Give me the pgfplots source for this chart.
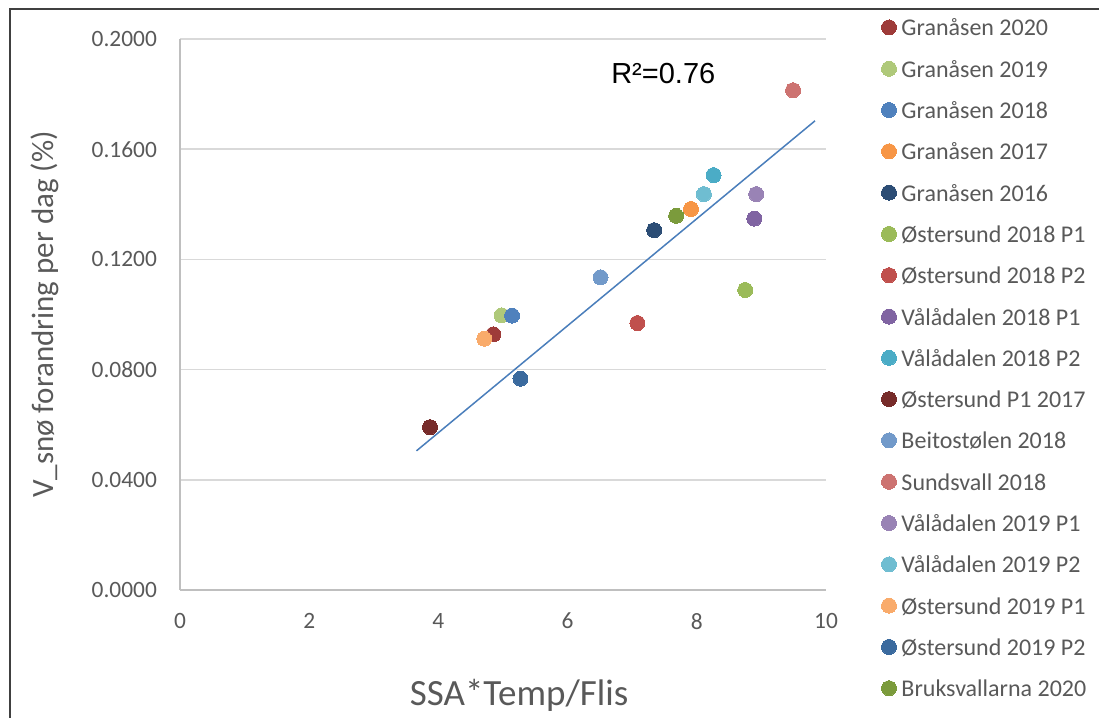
\documentclass[border=0pt]{standalone}
\usepackage{pgfplots}
\pgfplotsset{compat=1.18}
\usepackage{fontspec}
\setmainfont{Carlito}
\newfontfamily\arialfont{Liberation Sans}
\definecolor{framec}{HTML}{404040}
\definecolor{axisc}{HTML}{BFBFBF}
\definecolor{gridc}{HTML}{D9D9D9}
\definecolor{tickc}{HTML}{595959}
\definecolor{trendc}{HTML}{4A7EBB}
\definecolor{cA}{HTML}{9E3B39}
\definecolor{cB}{HTML}{AFC97A}
\definecolor{cC}{HTML}{4F81BD}
\definecolor{cD}{HTML}{F79646}
\definecolor{cE}{HTML}{2C4D75}
\definecolor{cF}{HTML}{9BBB59}
\definecolor{cG}{HTML}{C0504D}
\definecolor{cH}{HTML}{8064A2}
\definecolor{cI}{HTML}{4BACC6}
\definecolor{cJ}{HTML}{772C2A}
\definecolor{cK}{HTML}{729ACA}
\definecolor{cL}{HTML}{CD7371}
\definecolor{cM}{HTML}{9983B5}
\definecolor{cN}{HTML}{6FBDD1}
\definecolor{cO}{HTML}{F9AB6B}
\definecolor{cP}{HTML}{3A6A9E}
\definecolor{cQ}{HTML}{7B9B3C}
\pgfplotsset{pt/.style={only marks, mark=*, mark size=3.75pt, color=#1, mark options={draw=#1, fill=#1, line width=0pt}}}
\begin{document}
\begin{tikzpicture}
\path[use as bounding box] (0,0) rectangle (549.5pt,359pt);
\draw[line width=1pt, color=framec] (5pt,-20pt) -- (5pt,354.5pt) -- (580pt,354.5pt);
\begin{axis}[
  at={(90pt,64pt)}, anchor=south west, scale only axis,
  width=323pt, height=275.5pt,
  xmin=0, xmax=10, ymin=0, ymax=0.2,
  xtick={0,2,4,6,8,10},
  ytick={0,0.04,0.08,0.12,0.16,0.2},
  axis x line*=bottom, axis y line*=left,
  axis line style={draw=axisc, line width=0.75pt, -},
  ymajorgrids, grid style={draw=gridc, line width=0.75pt},
  major tick length=0pt,
  tick label style={font=\fontsize{11.7}{14}\selectfont, color=tickc},
  /pgf/number format/assume math mode=true,
  scaled y ticks=false,
  yticklabel style={/pgf/number format/.cd, fixed, fixed zerofill, precision=4, /tikz/.cd, xshift=-8pt},
  xticklabel style={yshift=-8pt},
  xlabel={SSA*Temp/Flis},
  ylabel={V\_snø forandring per dag (\%)},
  every axis x label/.style={at={(axis description cs:0.525,-0.192)}, anchor=center, font=\fontsize{18.5}{21}\selectfont, color=tickc},
  every axis y label/.style={at={(axis description cs:-0.209,0.5)}, anchor=center, rotate=90, font=\fontsize{15.5}{18}\selectfont, color=tickc},
  legend cell align=left,
  legend style={at={(axis description cs:1.0859,1.0574)}, anchor=north west,
    draw=none, fill=none, inner sep=0pt, outer sep=0pt, row sep=0pt,
    font=\fontsize{12}{14}\selectfont, text=tickc,
    nodes={inner sep=0pt, text height=14.3pt, text depth=6.35pt},
    /tikz/every odd column/.append style={column sep=2.5pt}},
  legend image code/.code={\draw[#1] plot coordinates {(3.75pt,0.3pt)};},
]
\addplot[pt=cA] coordinates {(4.85,0.0928)};
\addlegendentry{Granåsen 2020}
\addplot[pt=cB] coordinates {(4.98,0.0997)};
\addlegendentry{Granåsen 2019}
\addplot[pt=cC] coordinates {(5.14,0.0996)};
\addlegendentry{Granåsen 2018}
\addplot[pt=cD] coordinates {(7.91,0.1383)};
\addlegendentry{Granåsen 2017}
\addplot[pt=cE] coordinates {(7.34,0.1306)};
\addlegendentry{Granåsen 2016}
\addplot[pt=cF] coordinates {(8.75,0.1089)};
\addlegendentry{Østersund 2018 P1}
\addplot[pt=cG] coordinates {(7.08,0.0969)};
\addlegendentry{Østersund 2018 P2}
\addplot[pt=cH] coordinates {(8.89,0.1348)};
\addlegendentry{Vålådalen 2018 P1}
\addplot[pt=cI] coordinates {(8.26,0.1506)};
\addlegendentry{Vålådalen 2018 P2}
\addplot[pt=cJ] coordinates {(3.87,0.0591)};
\addlegendentry{Østersund P1 2017}
\addplot[pt=cK] coordinates {(6.51,0.1135)};
\addlegendentry{Beitostølen 2018}
\addplot[pt=cL] coordinates {(9.49,0.1814)};
\addlegendentry{Sundsvall 2018}
\addplot[pt=cM] coordinates {(8.92,0.1437)};
\addlegendentry{Vålådalen 2019 P1}
\addplot[pt=cN] coordinates {(8.11,0.1437)};
\addlegendentry{Vålådalen 2019 P2}
\addplot[pt=cO] coordinates {(4.71,0.0912)};
\addlegendentry{Østersund 2019 P1}
\addplot[pt=cP] coordinates {(5.27,0.0767)};
\addlegendentry{Østersund 2019 P2}
\addplot[pt=cQ] coordinates {(7.68,0.1358)};
\addlegendentry{Bruksvallarna 2020}
\addplot[no marks, color=trendc, line width=0.75pt, forget plot] coordinates {(3.66,0.0505) (9.83,0.1703)};
\node[anchor=base west, font=\arialfont\fontsize{14.5}{17}\selectfont, text=black, inner sep=0pt] at (axis cs:6.67,0.1837) {R²=0.76};
\end{axis}
\end{tikzpicture}
\end{document}
